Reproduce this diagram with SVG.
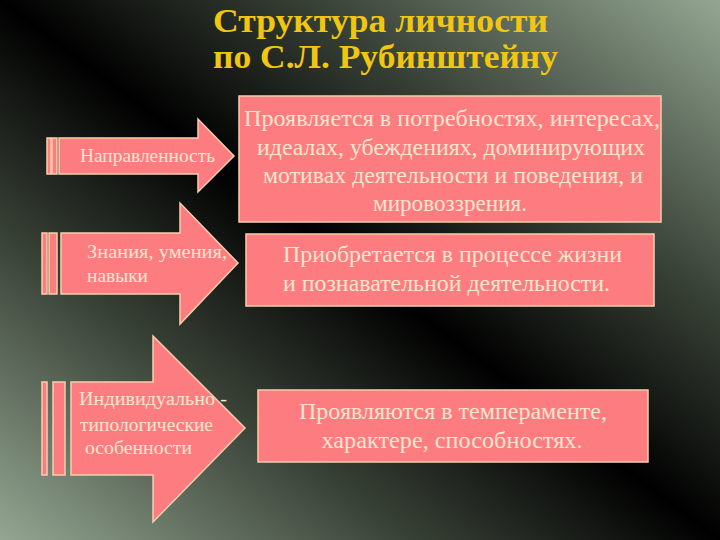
<svg xmlns="http://www.w3.org/2000/svg" width="720" height="540" viewBox="0 0 720 540">
  <defs>
    <linearGradient id="bg" x1="1" y1="0" x2="0" y2="1">
      <stop offset="0" stop-color="#94a692"/>
      <stop offset="0.28" stop-color="#3a4338"/>
      <stop offset="0.5" stop-color="#000000"/>
      <stop offset="0.72" stop-color="#3a4338"/>
      <stop offset="1" stop-color="#94a692"/>
    </linearGradient>
    <style>
      .shape { fill: #fd7c7f; stroke: #f6cfac; stroke-width: 1.5; }
      .title { font-family: "Liberation Serif", serif; font-weight: bold; font-size: 34px; fill: #f0c612; }
      .lbl { font-family: "Liberation Serif", serif; font-size: 19px; fill: #fde5cf; }
      .box { font-family: "Liberation Serif", serif; font-size: 24px; fill: #fde5cf; }
      .c { text-anchor: middle; }
    </style>
  </defs>
  <rect x="0" y="0" width="720" height="540" fill="url(#bg)"/>

  <g id="title">
    <text class="title" x="213" y="32" textLength="335" lengthAdjust="spacingAndGlyphs">Структура личности</text>
    <text class="title" x="213" y="68" textLength="345" lengthAdjust="spacingAndGlyphs">по С.Л. Рубинштейну</text>
  </g>

  <g id="arrow1">
    <rect class="shape" x="47" y="138" width="4" height="36"/>
    <rect class="shape" x="52" y="138" width="5" height="36"/>
    <polygon class="shape" points="59,138 198,138 198,119 234,156 198,192 198,174 59,174"/>
    <text class="lbl" x="80" y="162" textLength="135" lengthAdjust="spacingAndGlyphs">Направленность</text>
  </g>

  <g id="arrow2">
    <rect class="shape" x="42" y="233" width="5" height="61"/>
    <rect class="shape" x="49" y="233" width="8" height="61"/>
    <polygon class="shape" points="61,233 180,233 180,203 238,263 180,324 180,294 61,294"/>
    <text class="lbl" x="87" y="258" textLength="140" lengthAdjust="spacingAndGlyphs">Знания, умения,</text>
    <text class="lbl" x="87" y="282" textLength="61" lengthAdjust="spacingAndGlyphs">навыки</text>
  </g>

  <g id="arrow3">
    <rect class="shape" x="42" y="382" width="5" height="93"/>
    <rect class="shape" x="53" y="382" width="12" height="93"/>
    <polygon class="shape" points="71,382 153,382 153,336 245,428 153,522 153,475 71,475"/>
    <text class="lbl" x="79" y="405" textLength="148" lengthAdjust="spacingAndGlyphs">Индивидуально -</text>
    <text class="lbl" x="80" y="431" textLength="133" lengthAdjust="spacingAndGlyphs">типологические</text>
    <text class="lbl" x="85" y="454" textLength="107" lengthAdjust="spacingAndGlyphs">особенности</text>
  </g>

  <g id="box1">
    <rect class="shape" x="239" y="96" width="422" height="126"/>
    <text class="box c" x="452" y="126" textLength="416" lengthAdjust="spacingAndGlyphs">Проявляется в потребностях, интересах,</text>
    <text class="box c" x="451" y="155" textLength="388" lengthAdjust="spacingAndGlyphs">идеалах, убеждениях, доминирующих</text>
    <text class="box c" x="453" y="183" textLength="380" lengthAdjust="spacingAndGlyphs">мотивах деятельности и поведения, и</text>
    <text class="box c" x="450" y="211" textLength="154" lengthAdjust="spacingAndGlyphs">мировоззрения.</text>
  </g>

  <g id="box2">
    <rect class="shape" x="246" y="234" width="408" height="72"/>
    <text class="box" x="283" y="262" textLength="339" lengthAdjust="spacingAndGlyphs">Приобретается в процессе жизни</text>
    <text class="box" x="283" y="291" textLength="327" lengthAdjust="spacingAndGlyphs">и познавательной деятельности.</text>
  </g>

  <g id="box3">
    <rect class="shape" x="258" y="390" width="390" height="72"/>
    <text class="box c" x="453" y="419" textLength="308" lengthAdjust="spacingAndGlyphs">Проявляются в темпераменте,</text>
    <text class="box c" x="452" y="448" textLength="261" lengthAdjust="spacingAndGlyphs">характере, способностях.</text>
  </g>
</svg>
